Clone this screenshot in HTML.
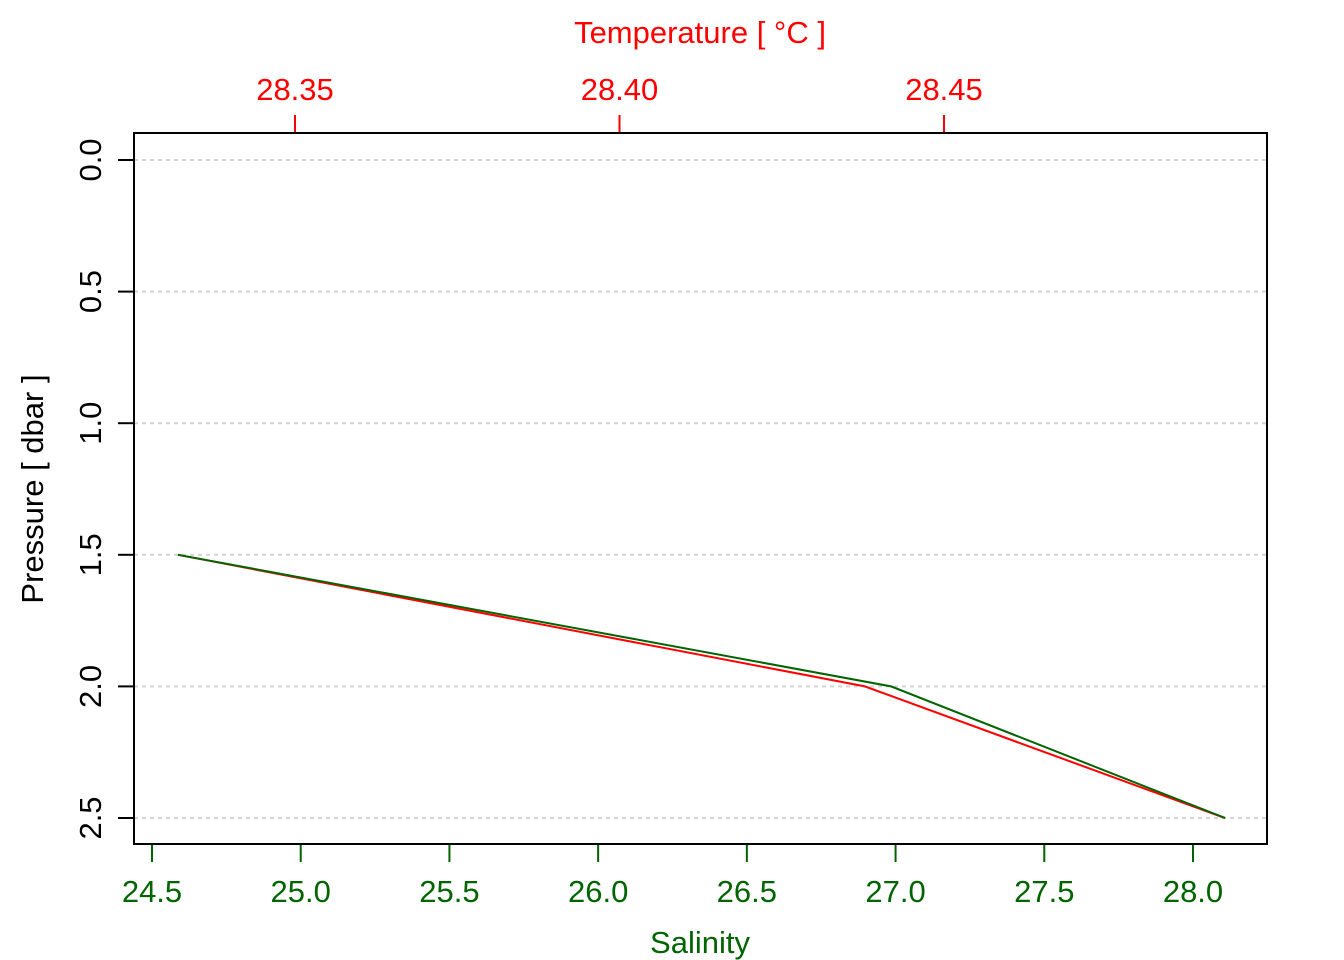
<!DOCTYPE html>
<html><head><meta charset="utf-8"><style>
body{margin:0;background:#fff}
svg{display:block;font-family:"Liberation Sans",sans-serif}
</style></head><body>
<svg id="chart" width="1344" height="960">
<g id="grid"></g><g id="series"></g><g id="axes"></g>
<rect x="134" y="133" width="1133" height="711" fill="none" stroke="#000" stroke-width="2"/>
<text x="700" y="953" text-anchor="middle" font-size="31" fill="#006400">Salinity</text>
<text x="700" y="43" text-anchor="middle" font-size="31" fill="#ff0000">Temperature [ °C ]</text>
<text transform="translate(43,489) rotate(-90)" text-anchor="middle" font-size="31" fill="#000">Pressure [ dbar ]</text>
</svg>
<script>
const pressure=[1.5,2.0,2.5];
const salinity=[24.587,26.985,28.108];
const temperature=[28.332,28.4378,28.4933];
const salTicks=[24.5,25.0,25.5,26.0,26.5,27.0,27.5,28.0];
const tempTicks=[28.35,28.40,28.45];
const presTicks=[0,0.5,1.0,1.5,2.0,2.5];
const NS="http://www.w3.org/2000/svg";
const xs=v=>152+(v-24.5)*(1193-152)/3.5;
const xt=v=>295+(v-28.35)*(944-295)/0.1;
const yp=v=>160+v*(818-160)/2.5;
function mk(p,t,a){const e=document.createElementNS(NS,t);for(const k in a)e.setAttribute(k,a[k]);document.getElementById(p).appendChild(e);return e;}
presTicks.forEach(v=>{
 let g=mk('grid','line',{x1:134,x2:1267,y1:yp(v),y2:yp(v),stroke:'#d3d3d3','stroke-width':2,'stroke-dasharray':'4,4'});
 
 
 let t=mk('axes','line',{x1:118,x2:134,y1:yp(v),y2:yp(v),stroke:'#000','stroke-width':2});
 
 
 let l=mk('axes','text',{transform:`translate(101,${yp(v)}) rotate(-90)`,'text-anchor':'middle','font-size':31,fill:'#000'});
 l.textContent=v.toFixed(1);
 
 
});
salTicks.forEach(v=>{
 let t=mk('axes','line',{x1:xs(v),x2:xs(v),y1:844,y2:862,stroke:'#006400','stroke-width':2});
 
 
 let l=mk('axes','text',{x:xs(v),y:902,'text-anchor':'middle','font-size':31,fill:'#006400'});
 l.textContent=v.toFixed(1);
 
 
});
tempTicks.forEach(v=>{
 let t=mk('axes','line',{x1:xt(v),x2:xt(v),y1:115,y2:133,stroke:'#ff0000','stroke-width':2});
 
 
 let l=mk('axes','text',{x:xt(v),y:100,'text-anchor':'middle','font-size':31,fill:'#ff0000'});
 l.textContent=v.toFixed(2);
 
 
});
let tl=mk('series','polyline',{points:pressure.map((p,i)=>xt(temperature[i])+','+yp(p)).join(' '),fill:'none',stroke:'#ff0000','stroke-width':2});


let sl=mk('series','polyline',{points:pressure.map((p,i)=>xs(salinity[i])+','+yp(p)).join(' '),fill:'none',stroke:'#006400','stroke-width':2});


</script>
</body></html>
